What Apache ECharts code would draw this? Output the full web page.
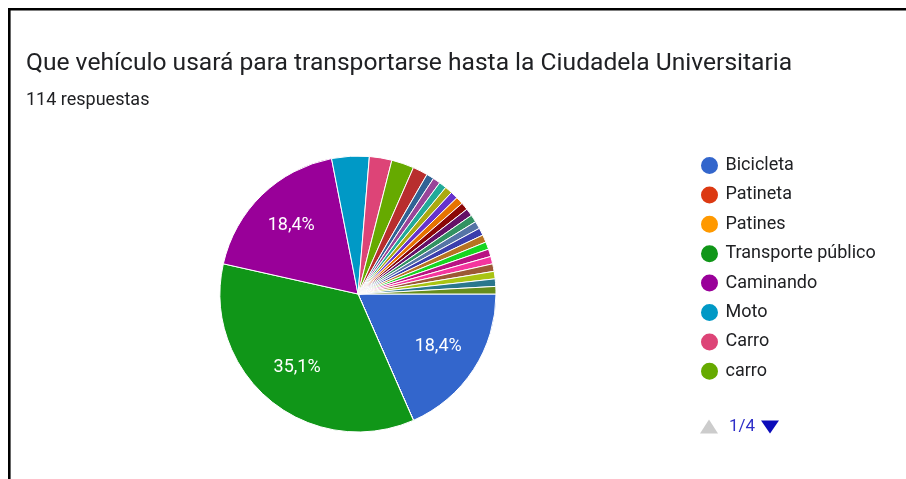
<!DOCTYPE html>
<html>
<head>
<meta charset="utf-8">
<script src="https://cdn.jsdelivr.net/npm/echarts@6/dist/echarts.min.js"></script>
<style>
  html, body { margin: 0; padding: 0; background: #fff; }
  #chart { width: 906px; height: 479px; }
</style>
</head>
<body>
<div id="chart"></div>
<script>
const titleText = 'Que vehículo usará para transportarse hasta la Ciudadela Universitaria';
const subtitleText = '114 respuestas';

// answers, in the order of the form (only the first page of the legend is visible)
const categories = [
  'Bicicleta', 'Patineta', 'Patines', 'Transporte público', 'Caminando', 'Moto', 'Carro', 'carro',
  'Respuesta 9', 'Respuesta 10', 'Respuesta 11', 'Respuesta 12', 'Respuesta 13', 'Respuesta 14',
  'Respuesta 15', 'Respuesta 16', 'Respuesta 17', 'Respuesta 18', 'Respuesta 19', 'Respuesta 20',
  'Respuesta 21', 'Respuesta 22', 'Respuesta 23', 'Respuesta 24', 'Respuesta 25', 'Respuesta 26',
  'Respuesta 27', 'Respuesta 28'
];
const counts = [
  21, 0, 0, 40, 21, 5, 3, 3,
  2, 1, 1, 1, 1, 1,
  1, 1, 1, 1, 1, 1,
  1, 1, 1, 1, 1, 1,
  1, 1
];
const palette = [
  '#3366cc', '#dc3912', '#ff9900', '#109618', '#990099', '#0099c6', '#dd4477', '#66aa00',
  '#b82e2e', '#316395', '#994499', '#22aa99', '#aaaa11', '#6633cc', '#e67300', '#8b0707',
  '#651067', '#329262', '#5574a6', '#3b3eac', '#b77322', '#16d620', '#b91383', '#f4359e',
  '#9c5935', '#a9c413', '#2a778d', '#668d1c'
];
const perPage = 8;

const cx = 358, cy = 294, radius = 138;
const textColor = '#202124';

const chart = echarts.init(document.getElementById('chart'));

const pageCount = Math.ceil(categories.length / perPage);

chart.setOption({
  animation: false,
  color: palette,
  title: {
    text: titleText,
    subtext: subtitleText,
    left: 21,
    top: 46,
    itemGap: 15,
    textStyle: { fontFamily: 'Roboto', fontSize: 24.6, fontWeight: 'normal', color: textColor },
    subtextStyle: { fontFamily: 'Roboto', fontSize: 18, color: textColor }
  },
  legend: {
    orient: 'vertical',
    left: 694,
    top: 150,
    data: categories.slice(0, perPage),
    icon: 'circle',
    itemWidth: 22,
    itemHeight: 19,
    itemGap: 8.4,
    textStyle: { fontFamily: 'Roboto', fontSize: 18, color: textColor },
    selectedMode: false
  },
  graphic: [
    {
      type: 'polyline',
      shape: { points: [[9.3, 479], [9.3, 9.3], [906, 9.3]] },
      style: { stroke: '#000', lineWidth: 2.6, fill: null }
    },
    {
      type: 'group',
      left: 700,
      top: 418,
      children: [
        { type: 'polygon', shape: { points: [[0, 14], [9, 0], [18, 14]] }, style: { fill: '#cccccc' } },
        {
          type: 'text', x: 29, y: 7,
          style: {
            text: '1/' + pageCount, fill: '#2f2fc8', fontFamily: 'Roboto', fontSize: 17,
            verticalAlign: 'middle'
          }
        },
        { type: 'polygon', shape: { points: [[61, 1], [79, 1], [70, 14]] }, style: { fill: '#0c0cba' } }
      ]
    }
  ],
  series: [{
    type: 'pie',
    center: [cx, cy],
    radius: radius,
    startAngle: 0,
    clockwise: true,
    percentPrecision: 1,
    itemStyle: { borderColor: '#fff', borderWidth: 1 },
    label: {
      position: 'inside',
      color: '#fff',
      fontFamily: 'Roboto',
      fontSize: 18,
      formatter: p => p.percent >= 5 ? p.percent.toFixed(1).replace('.', ',') + '%' : ''
    },
    labelLayout: p => {
      const r = p.labelRect;
      const lx = r.x + r.width / 2, ly = r.y + r.height / 2;
      const k = 1.33;
      return { x: cx + (lx - cx) * k, y: cy + (ly - cy) * k };
    },
    labelLine: { show: false },
    emphasis: { disabled: true },
    data: categories.map((name, i) => ({ name, value: counts[i] }))
  }]
});
</script>
</body>
</html>
